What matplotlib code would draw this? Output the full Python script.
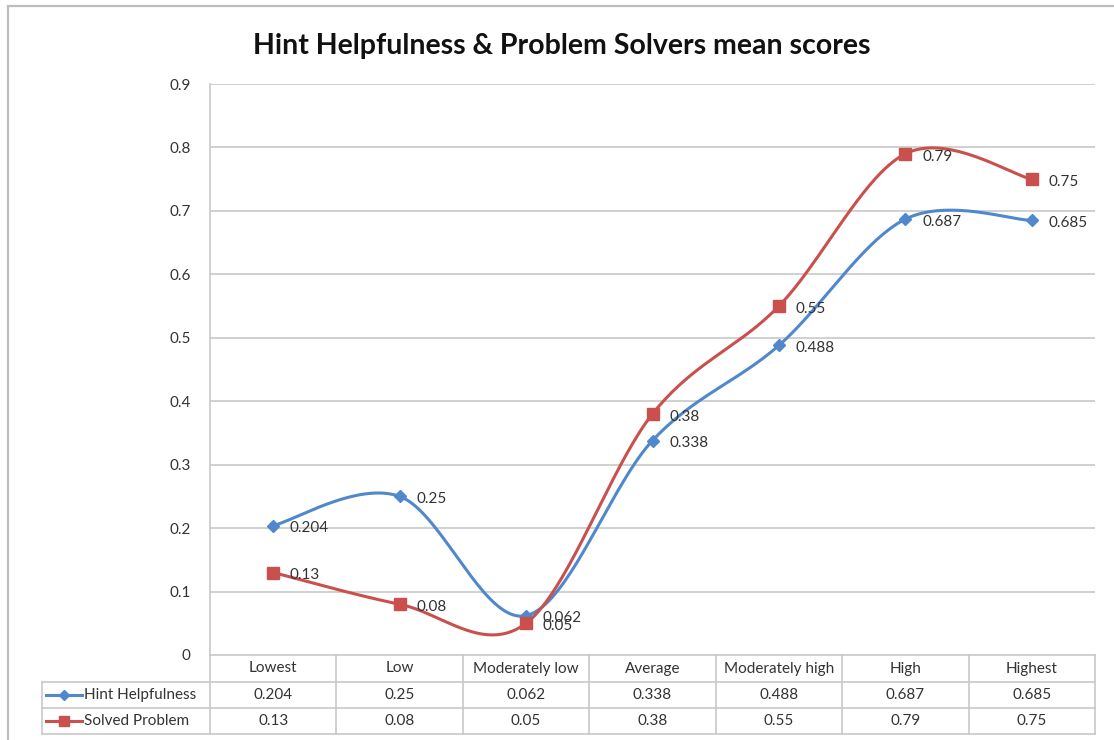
import numpy as np
import matplotlib
matplotlib.use('Agg')
import matplotlib.pyplot as plt
from matplotlib.patches import Rectangle
from matplotlib.lines import Line2D

categories = ['Lowest', 'Low', 'Moderately low', 'Average', 'Moderately high', 'High', 'Highest']
hint = [0.204, 0.25, 0.062, 0.338, 0.488, 0.687, 0.685]
solved = [0.13, 0.08, 0.05, 0.38, 0.55, 0.79, 0.75]
hint_labels = ['0.204', '0.25', '0.062', '0.338', '0.488', '0.687', '0.685']
solved_labels = ['0.13', '0.08', '0.05', '0.38', '0.55', '0.79', '0.75']
y_ticks = [0, 0.1, 0.2, 0.3, 0.4, 0.5, 0.6, 0.7, 0.8, 0.9]

BLUE = '#4f88cc'
RED = '#c9504c'
GRID = '#c8c8c8'
TXT = '#333333'
FS = 11

plt.rcParams['font.family'] = ['Lato', 'DejaVu Sans']


def smooth(xs, ys, n=40):
    # bezier smoothing like spreadsheet "smoothed line" (catmull-rom, 1/6 tension)
    p = np.column_stack([xs, ys]).astype(float)
    p_ext = np.vstack([p[0], p, p[-1]])
    out = []
    for i in range(len(p) - 1):
        p0, p1, p2, p3 = p_ext[i], p_ext[i + 1], p_ext[i + 2], p_ext[i + 3]
        c1 = p1 + (p2 - p0) / 6.0
        c2 = p2 - (p3 - p1) / 6.0
        t = np.linspace(0, 1, n)[:, None]
        seg = ((1 - t) ** 3) * p1 + 3 * ((1 - t) ** 2) * t * c1 + 3 * (1 - t) * t ** 2 * c2 + t ** 3 * p2
        out.append(seg if i == 0 else seg[1:])
    out = np.vstack(out)
    return out[:, 0], out[:, 1]


fig = plt.figure(figsize=(11.14, 7.40), dpi=100)
fig.patch.set_facecolor('white')

# outer chart frame
fig.patches.append(Rectangle((8 / 1114, -0.1), 1.2, 1.1 - 6 / 740, transform=fig.transFigure,
                             fill=False, edgecolor='#bdbdbd', lw=1.6))

ax = fig.add_axes([210 / 1114, 85 / 740, 885 / 1114, 571 / 740])
x = np.arange(len(categories))
ax.set_xlim(-0.5, len(categories) - 0.5)
ax.set_ylim(0, 0.9)
ax.set_yticks(y_ticks)
ax.set_yticklabels(['0' if v == 0 else '%.1f' % v for v in y_ticks], fontsize=FS, color=TXT)
ax.tick_params(axis='y', length=0, pad=14)
ax.set_xticks([])
for s in ['top', 'right', 'bottom']:
    ax.spines[s].set_visible(False)
ax.spines['left'].set_color(GRID)
ax.spines['left'].set_linewidth(1.2)
for v in y_ticks[1:]:
    ax.axhline(v, color=GRID, lw=1.2, zorder=0)

sx, sy = smooth(x, hint)
ax.plot(sx, sy, color=BLUE, lw=2.2, zorder=3)
ax.plot(x, hint, ls='', marker='D', ms=6.5, color=BLUE, zorder=4)
sx, sy = smooth(x, solved)
ax.plot(sx, sy, color=RED, lw=2.2, zorder=3)
ax.plot(x, solved, ls='', marker='s', ms=9, color=RED, zorder=4)

for xi, v, lab in zip(x, hint, hint_labels):
    ax.annotate(lab, (xi, v), xytext=(12, -2), textcoords='offset points',
                ha='left', va='center', fontsize=FS, color=TXT, zorder=5)
for xi, v, lab in zip(x, solved, solved_labels):
    ax.annotate(lab, (xi, v), xytext=(12, -2), textcoords='offset points',
                ha='left', va='center', fontsize=FS, color=TXT, zorder=5)

# data table below the plot
tr = ax.get_xaxis_transform()
h = 1 / 571
rows = [0, -27 * h, -53 * h, -79 * h]
left = -0.5 - 168 / (885 / 7)
right = len(categories) - 0.5
lk = dict(transform=tr, color=GRID, lw=1.2, clip_on=False)
ax.add_line(Line2D([-0.5, right], [rows[0], rows[0]], **lk))
for r in rows[1:]:
    ax.add_line(Line2D([left, right], [r, r], **lk))
for b in np.arange(-0.5, right + 0.01, 1):
    ax.add_line(Line2D([b, b], [rows[0], rows[3]], **lk))
ax.add_line(Line2D([left, left], [rows[1], rows[3]], **lk))

for xi, c in zip(x, categories):
    ax.text(xi, (rows[0] + rows[1]) / 2, c, transform=tr, ha='center', va='center',
            fontsize=FS, color=TXT)
for xi, lab in zip(x, hint_labels):
    ax.text(xi, (rows[1] + rows[2]) / 2, lab, transform=tr, ha='center', va='center',
            fontsize=FS, color=TXT)
for xi, lab in zip(x, solved_labels):
    ax.text(xi, (rows[2] + rows[3]) / 2, lab, transform=tr, ha='center', va='center',
            fontsize=FS, color=TXT)

# legend keys inside the table
u = 885 / 7
key0 = left + 4 / u
key1 = left + 40 / u
for (ym, col, mk, ms, name) in [((rows[1] + rows[2]) / 2, BLUE, 'D', 5, 'Hint Helpfulness'),
                                ((rows[2] + rows[3]) / 2, RED, 's', 7, 'Solved Problem')]:
    ax.add_line(Line2D([key0, key1], [ym, ym], transform=tr, color=col, lw=2.2, clip_on=False))
    ax.add_line(Line2D([(key0 + key1) / 2], [ym], transform=tr, color=col, marker=mk, ms=ms,
                       ls='', clip_on=False))
    ax.text(key1 + 2 / u, ym, name, transform=tr, ha='left', va='center', fontsize=FS, color=TXT)

fig.text(0.504, 0.938, 'Hint Helpfulness & Problem Solvers mean scores', ha='center', va='center',
         fontsize=20.5, fontweight='bold', color='#111111')

fig.savefig('out.png', dpi=100)
